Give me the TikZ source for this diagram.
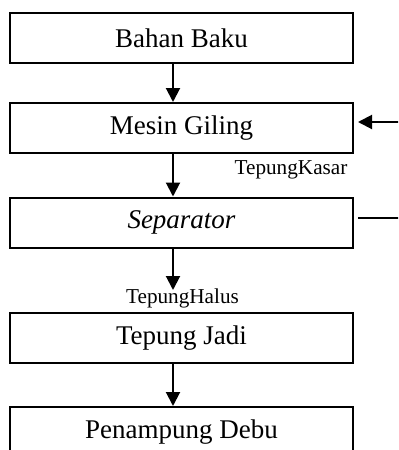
\documentclass[tikz,border=0pt]{standalone}
\usepackage{fontspec}
\setmainfont{Liberation Serif}
\usetikzlibrary{arrows.meta}
\begin{document}
\begin{tikzpicture}[x=0.5pt,y=-0.5pt,
  procbox/.style={draw,line width=1pt,minimum width=171.5pt,minimum height=25pt,inner sep=0pt,
    font=\fontsize{13.5}{16}\selectfont},
  lbl/.style={font=\fontsize{10.6}{12}\selectfont,inner sep=0pt},
  arr/.style={line width=1pt,-{Triangle[width=7pt,length=7pt]}},
  ln/.style={line width=1pt}]
\useasboundingbox (0,0) rectangle (398,450);
\clip (0,0) rectangle (398,450);
\node[procbox] (b1) at (181.5,38) {Bahan Baku};
\node[procbox] (b2) at (181.5,128) {Mesin Giling};
\node[procbox] (b3) at (181.5,222.5) {\itshape Separator};
\node[procbox] (b4) at (181.5,338) {Tepung Jadi};
\node[procbox] (b5) at (181.5,432) {Penampung Debu};
\coordinate (ax) at (173,0);
\coordinate (inR) at (400,122);
\coordinate (outR) at (400,218);
\coordinate (halusEnd) at (173,290);
\node[lbl] (kasar) at (291,170) {TepungKasar};
\node[lbl] (halus) at (182.5,298) {TepungHalus};
\draw[arr] (b1.south -| ax) -- (b2.north -| ax);
\draw[arr] (b2.south -| ax) -- (b3.north -| ax);
\draw[arr] (b3.south -| ax) -- (halusEnd);
\draw[arr] (b4.south -| ax) -- (b5.north -| ax);
\draw[arr,shorten >=2pt] (inR) -- (inR -| b2.east);
\draw[ln,shorten <=2pt] (outR -| b3.east) -- (outR);
\end{tikzpicture}
\end{document}
